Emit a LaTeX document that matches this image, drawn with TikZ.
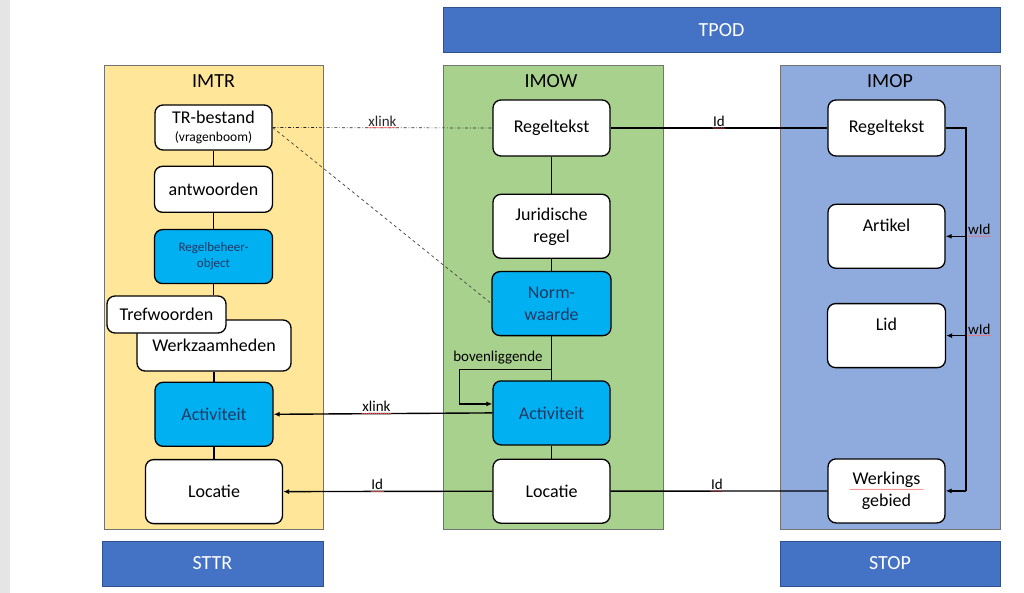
\documentclass[tikz,border=0pt]{standalone}
\usepackage{fontspec}
\setmainfont{Carlito}
\usetikzlibrary{positioning,calc,arrows.meta,decorations.pathmorphing}
\definecolor{imtrfill}{HTML}{FFE699}
\definecolor{imowfill}{HTML}{A9D18E}
\definecolor{imopfill}{HTML}{8FAADC}
\definecolor{barblue}{HTML}{4472C4}
\definecolor{barline}{HTML}{2F528F}
\definecolor{boxblue}{HTML}{00B0F0}
\definecolor{textnavy}{HTML}{1F3864}

\begin{document}
\begin{tikzpicture}[x=1pt, y=-1pt,
        panel/.style={rectangle, draw=black!55, line width=0.8pt, minimum width=220pt, minimum height=464pt, inner sep=0pt},
        titlenode/.style={font=\fontsize{20}{24}\selectfont},
        barnode/.style={rectangle, draw=barline, fill=barblue, text=white, minimum height=45pt, font=\fontsize{20}{24}\selectfont},
        itemnode/.style={rectangle, rounded corners=8pt, draw=black, line width=1.3pt, fill=white, minimum width=117pt, minimum height=64pt, align=center, inner sep=2pt, font=\fontsize{18}{22}\selectfont},
        bluenode/.style={itemnode, fill=boxblue, text=textnavy},
        linklabel/.style={font=\fontsize{15}{18}\selectfont, inner sep=1pt},
        link/.style={line width=1.4pt},
        arrowlink/.style={link, -{Latex[length=6pt,width=5pt]}},
        spell/.style={draw=red!60, line width=0.4pt, decorate, decoration={snake, amplitude=0.4pt, segment length=2pt}},
        ]
        \useasboundingbox (0,0) rectangle (1024,593);
        \fill[black!10] (0,0) rectangle (10,593);

        %Bars
        \node[barnode, minimum width=557pt] (tpod) at (721.5,30) {TPOD};
        \node[barnode, minimum width=221pt] (sttr) at (212.5,563.5) {STTR};
        \node[barnode, minimum width=220pt] (stop) at (890,563.5) {STOP};

        %Panels
        \node[panel, fill=imtrfill, minimum width=219pt] (imtr) at (213.5,297) {};
        \node[panel, fill=imowfill] (imow) at (553,297) {};
        \node[panel, fill=imopfill] (imop) at (890,297) {};
        \node[titlenode] (imtrtitle) at (213.5,81) {IMTR};
        \node[titlenode] (imowtitle) at (551,81) {IMOW};
        \node[titlenode] (imoptitle) at (890,81) {IMOP};

        %IMTR
        \node[itemnode, minimum height=45pt] (trbest) at (213.5,127.5) {TR-bestand\\[-4pt]{\fontsize{13.5}{16}\selectfont (vragenboom)}};
        \node[itemnode, minimum width=118pt, minimum height=46pt, below=15pt of trbest] (antw) {antwoorden};
        \node[bluenode, minimum width=118pt, minimum height=54pt, below=16pt of antw, font=\fontsize{13}{16}\selectfont] (rbo) {Regelbeheer-\\object};
        \node[itemnode, minimum width=154pt, minimum height=51pt] (werk) at (214,345.5) {Werkzaamheden};
        \node[itemnode, minimum width=119pt, minimum height=37pt] (tref) at (166.5,314.5) {Trefwoorden};
        \node[bluenode, minimum width=118pt, below=10pt of werk] (tract) {Activiteit};
        \node[itemnode, minimum width=137pt, below=12pt of tract] (trloc) {Locatie};

        %IMOW
        \node[itemnode, minimum height=56pt] (owrt) at (551.5,128) {Regeltekst};
        \node[itemnode, below=37pt of owrt] (owjr) {Juridische\\regel};
        \node[bluenode, minimum width=119pt, below=12pt of owjr] (ownw) {Norm-\\waarde};
        \node[bluenode, below=44pt of ownw] (owact) {Activiteit};
        \node[itemnode, below=13pt of owact] (owloc) {Locatie};

        %IMOP
        \node[itemnode, minimum height=56pt] (oprt) at (886.5,128) {Regeltekst};
        \node[itemnode, below=47pt of oprt] (opart) {Artikel\\\mbox{}};
        \node[itemnode, minimum width=118pt, below=34pt of opart] (oplid) {Lid\\\mbox{}};
        \node[itemnode, below=90pt of oplid] (opwg) {Werkings\\gebied};

        %Links inside the columns
        \draw[link] (trbest) -- (antw);
        \draw[link] (antw) -- (rbo);
        \draw[link] (rbo.south) -- (rbo.south |- tref.north);
        \draw[link] (werk) -- (tract);
        \draw[link] (tract) -- (trloc);
        \draw[link] (owrt) -- (owjr);
        \draw[link] (owjr) -- (ownw);
        \draw[link] (ownw) -- (owact);
        \draw[link] (owact) -- (owloc);
        \coordinate (loop) at ($(ownw.south)!0.76!(owact.north)$);
        \draw[arrowlink] (loop) -| ([xshift=-33pt,yshift=9pt]owact.west) -- ([yshift=9pt]owact.west);
        \node[linklabel, font=\fontsize{15}{18}\selectfont] (bovlabel) at (498,358) {bovenliggende};

        %Links between the columns
        \draw[black!85, line width=0.7pt, dash dot] (trbest.east) -- node[linklabel, above] (xlinka) {xlink} (owrt.west);
        \draw[black!75, line width=0.7pt, dashed] (trbest.east) -- (ownw.west);
        \draw[link] (owrt) -- node[linklabel, above] (ida) {Id} (oprt);
        \draw[arrowlink] (owact.west) -- node[linklabel, above, pos=0.53] (xlinkb) {xlink} (tract.east);
        \draw[arrowlink] (owloc.west) -- node[linklabel, above, pos=0.55] (idb) {Id} (trloc.east);
        \draw[link] (owloc) -- node[linklabel, above, pos=0.49] (idc) {Id} (opwg);

        %wId bus
        \coordinate (bus) at (966,128);
        \draw[line width=2.4pt] (oprt.east) -- (bus) -- (bus |- opwg.east);
        \draw[arrowlink] (bus |- opwg.east) -- (opwg.east);
        \draw[arrowlink] (bus |- opart.east) -- (opart.east);
        \draw[arrowlink] (bus |- oplid.east) -- (oplid.east);
        \node[linklabel, above right] (wida) at ([xshift=1pt]bus |- opart.east) {wId};
        \node[linklabel, above right] (widb) at ([xshift=1pt]bus |- oplid.east) {wId};

        %Spelling marks
        \foreach \w in {xlinka,ida,xlinkb,idb,idc,wida,widb}
            \draw[spell] ([xshift=1pt]\w.south west) -- ([xshift=-1pt]\w.south east);
        \draw[spell] ([xshift=-37pt,yshift=1.5pt]opwg.center) -- ([xshift=37pt,yshift=1.5pt]opwg.center);
    \end{tikzpicture}
\end{document}
